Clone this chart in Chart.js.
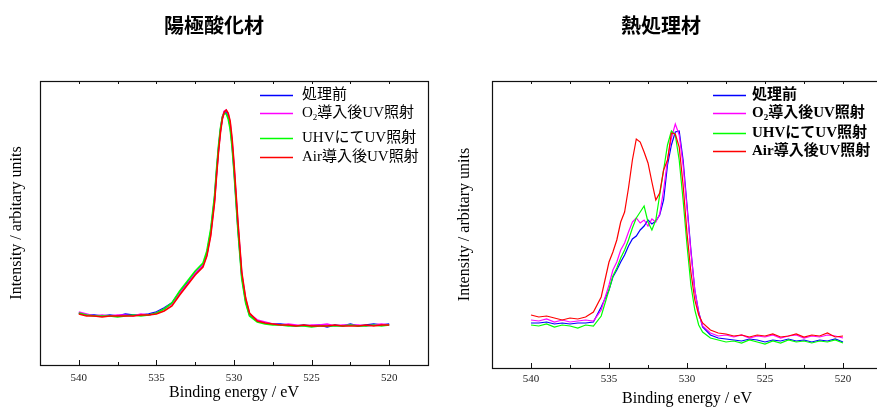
<!DOCTYPE html>
<html>
<head>
<meta charset="utf-8">
<script src="https://cdn.jsdelivr.net/npm/chart.js@4/dist/chart.umd.min.js"></script>
<style>
  html, body { margin: 0; padding: 0; background: #fff; }
  body { width: 877px; height: 408px; overflow: hidden; position: relative; }
  canvas { position: absolute; top: 0; }
  #c1 { left: 0; }
  #c2 { left: 440px; }
</style>
</head>
<body>
<canvas id="c1" width="440" height="408"></canvas>
<canvas id="c2" width="470" height="408"></canvas>
<script>
// ---------- data ----------
const seriesLabels = ['処理前', 'O₂導入後UV照射', 'UHVにてUV照射', 'Air導入後UV照射'];
const seriesColors = ['#0000ff', '#ff00ff', '#00ff00', '#ff0000'];
const xTickValues = [540, 535, 530, 525, 520];

// 陽極酸化材
const leftEnergy = [540, 539.5, 539, 538.5, 538, 537.5, 537, 536.5, 536, 535.5, 535, 534.5, 534, 533.5, 533, 532.5, 532,
  531.75, 531.5, 531.25, 531.125, 531, 530.875, 530.75, 530.625, 530.5, 530.375, 530.25, 530.125, 530, 529.75, 529.5, 529.25, 529,
  528.5, 528, 527.5, 527, 526.5, 526, 525.5, 525, 524.5, 524, 523.5, 523, 522.5, 522, 521.5, 521, 520.5, 520];
const leftBefore = [52, 50, 50, 49, 50, 49, 51, 50, 50, 51, 53, 57, 62, 73, 82, 92, 100,
  111, 133, 167, 193, 216, 235, 247, 253, 253, 249, 239, 221, 196, 138, 89, 64, 50,
  44, 42, 41, 41, 40, 39, 40, 39, 40, 38, 40, 39, 41, 39, 40, 41, 40, 41];
const leftO2 = [53, 51, 49, 50, 49, 50, 50, 49, 51, 50, 52, 56, 61, 72, 81, 92, 100,
  110, 131, 165, 191, 215, 234, 248, 254, 255, 251, 242, 224, 199, 141, 91, 66, 51,
  45, 43, 41, 40, 41, 40, 39, 40, 40, 41, 39, 40, 40, 40, 39, 40, 41, 40];
const leftUHV = [52, 50, 49, 49, 49, 48, 49, 50, 49, 50, 52, 56, 62, 74, 84, 94, 102,
  114, 136, 170, 196, 219, 237, 248, 252, 251, 246, 236, 218, 193, 135, 86, 62, 49,
  43, 41, 40, 40, 39, 39, 39, 38, 39, 39, 39, 39, 40, 39, 39, 40, 39, 40];
const leftAir = [51, 49, 49, 48, 49, 49, 49, 49, 50, 50, 51, 54, 59, 70, 80, 90, 98,
  109, 129, 163, 189, 213, 232, 246, 253, 255, 252, 244, 227, 202, 144, 93, 67, 52,
  44, 42, 41, 40, 40, 39, 40, 39, 39, 39, 40, 39, 39, 39, 40, 39, 40, 40];

// 熱処理材
const rightEnergy = [540, 539.5, 539, 538.5, 538, 537.5, 537, 536.5, 536, 535.5, 535, 534.75, 534.5, 534.25, 534, 533.75, 533.5, 533.25, 533, 532.75, 532.5, 532.25, 532, 531.75, 531.5, 531.25, 531, 530.75, 530.5, 530.25, 530, 529.75, 529.5, 529.25, 529, 528.5, 528, 527.5, 527, 526.5, 526, 525.5, 525, 524.5, 524, 523.5, 523, 522.5, 522, 521.5, 521, 520.5, 520];
const rightBefore = [45, 45, 46, 44, 45, 44, 45, 45, 46, 61, 78, 91, 98, 106, 113, 122, 129, 132, 138, 142, 148, 144, 147, 153, 168, 203, 223, 236, 237, 208, 163, 118, 78, 56, 41, 33, 30, 29, 28, 27, 29, 28, 26, 28, 27, 29, 27, 28, 26, 28, 27, 29, 26];
const rightO2 = [48, 47, 49, 46, 48, 46, 47, 48, 47, 58, 83, 98, 106, 118, 125, 136, 146, 150, 145, 148, 142, 149, 146, 154, 178, 208, 230, 244, 233, 203, 160, 116, 78, 55, 42, 35, 32, 33, 31, 33, 30, 32, 31, 33, 30, 32, 33, 30, 32, 31, 33, 32, 30];
const rightUHV = [43, 42, 44, 41, 43, 42, 40, 43, 42, 52, 78, 92, 100, 110, 118, 128, 140, 150, 156, 162, 146, 138, 148, 173, 198, 223, 237, 233, 208, 168, 123, 83, 58, 43, 36, 30, 28, 26, 27, 25, 28, 26, 24, 27, 25, 28, 26, 27, 25, 27, 26, 28, 25];
const rightAir = [53, 51, 52, 50, 48, 50, 49, 51, 56, 71, 106, 116, 128, 146, 156, 180, 208, 229, 226, 216, 205, 186, 168, 175, 198, 208, 235, 234, 221, 183, 135, 96, 68, 53, 45, 38, 35, 34, 32, 33, 31, 33, 32, 34, 31, 32, 34, 31, 33, 32, 35, 31, 32];

// ---------- helpers ----------
const SERIF = '"Liberation Serif", "Noto Sans CJK JP", serif';
const CJK = '"Noto Sans CJK JP", sans-serif';

function toPoints(xs, ys) { return xs.map((x, i) => ({ x: x, y: ys[i] })); }

function makeDatasets(xs, list, width) {
  const order = [3, 2, 1, 0];
  return list.map((vals, i) => ({
    label: seriesLabels[i],
    data: toPoints(xs, vals),
    borderColor: seriesColors[i],
    borderWidth: width,
    pointRadius: 0,
    tension: 0,
    fill: false,
    order: order[i]
  }));
}

function drawRich(ctx, text, x, y, size, weight) {
  let cx = x;
  const parts = text.split('₂');
  parts.forEach((p, idx) => {
    ctx.font = weight + ' ' + size + 'px ' + SERIF;
    ctx.fillText(p, cx, y);
    cx += ctx.measureText(p).width;
    if (idx < parts.length - 1) {
      ctx.font = weight + ' ' + Math.round(size * 0.6) + 'px ' + SERIF;
      ctx.fillText('2', cx, y + size * 0.3);
      cx += ctx.measureText('2').width;
    }
  });
}

const framePlugin = {
  id: 'frame',
  afterDatasetsDraw(chart) {
    const { ctx, chartArea: a, scales: { x } } = chart;
    ctx.save();
    ctx.strokeStyle = '#111';
    ctx.lineWidth = 1.2;
    ctx.strokeRect(Math.round(a.left) + 0.5, Math.round(a.top) + 0.5, Math.round(a.right - a.left), Math.round(a.bottom - a.top));
    ctx.lineWidth = 1;
    const marks = [];
    xTickValues.forEach(v => { marks.push([v, 5]); marks.push([v + 2.5, 3]); });
    marks.forEach(([v, len]) => {
      const px = Math.round(x.getPixelForValue(v)) + 0.5;
      if (px <= a.left + 1 || px >= a.right - 1) return;
      ctx.beginPath();
      ctx.moveTo(px, a.bottom); ctx.lineTo(px, a.bottom - len);
      ctx.moveTo(px, a.top); ctx.lineTo(px, a.top + 3);
      ctx.stroke();
    });
    ctx.restore();
  }
};

const innerLegend = {
  id: 'innerLegend',
  afterDraw(chart, args, opts) {
    const { ctx } = chart;
    ctx.save();
    ctx.textBaseline = 'middle';
    ctx.fillStyle = '#000';
    chart.data.datasets.forEach((ds, i) => {
      const y = opts.rows[i];
      ctx.strokeStyle = ds.borderColor;
      ctx.lineWidth = 1.3;
      ctx.beginPath();
      ctx.moveTo(opts.x0, y + 0.5); ctx.lineTo(opts.x1, y + 0.5);
      ctx.stroke();
      drawRich(ctx, ds.label, opts.textX, y, opts.size, opts.weight);
    });
    ctx.restore();
  }
};

function makeChart(id, title, xs, list, cfg) {
  return new Chart(document.getElementById(id), {
    type: 'line',
    data: { datasets: makeDatasets(xs, list, cfg.lineWidth) },
    plugins: [framePlugin, innerLegend],
    options: {
      responsive: false,
      animation: false,
      devicePixelRatio: 1,
      layout: { padding: { left: 0, right: cfg.padRight, top: 0, bottom: 0 } },
      plugins: {
        legend: { display: false },
        tooltip: { enabled: false },
        title: {
          display: true, text: title, color: '#000',
          font: { family: CJK, size: 20, weight: 'bold', lineHeight: 1.2 },
          padding: { top: 13, bottom: 44 }
        },
        innerLegend: cfg.legend
      },
      scales: {
        x: {
          type: 'linear', reverse: true, min: 517.5, max: 542.5,
          afterBuildTicks: s => { s.ticks = xTickValues.map(v => ({ value: v })); },
          afterFit: s => { s.height = cfg.xHeight; },
          grid: { display: false, drawTicks: false },
          border: { display: false },
          ticks: { autoSkip: false, maxRotation: 0, padding: cfg.tickPad, color: '#222',
                   font: { family: SERIF, size: 11 }, callback: v => String(v) },
          title: { display: true, text: 'Binding energy / eV', color: '#000',
                   font: { family: SERIF, size: 16 }, padding: { top: 0, bottom: cfg.xTitlePad } }
        },
        y: {
          min: 0, max: cfg.yMax,
          afterFit: s => { s.width = cfg.yWidth; },
          ticks: { display: false },
          grid: { display: false, drawTicks: false },
          border: { display: false },
          title: { display: true, text: 'Intensity / arbitary units', color: '#000',
                   font: { family: SERIF, size: 16 }, padding: { top: cfg.yTitlePad, bottom: 0 } }
        }
      }
    }
  });
}

makeChart('c1', '陽極酸化材', leftEnergy, [leftBefore, leftO2, leftUHV, leftAir], {
  lineWidth: 1.6, padRight: 12, xHeight: 43, yWidth: 40, yMax: 284,
  tickPad: 7, xTitlePad: 6, yTitlePad: 7,
  legend: { x0: 260, x1: 293, textX: 302, rows: [95, 113, 138, 157], size: 15, weight: 'normal' }
});

makeChart('c2', '熱処理材', rightEnergy, [rightBefore, rightO2, rightUHV, rightAir], {
  lineWidth: 1.2, padRight: 28, xHeight: 40, yWidth: 52, yMax: 287,
  tickPad: 5, xTitlePad: 0, yTitlePad: 15,
  legend: { x0: 273, x1: 306, textX: 312, rows: [95, 113, 133, 151], size: 15, weight: 'bold' }
});
</script>
</body>
</html>
